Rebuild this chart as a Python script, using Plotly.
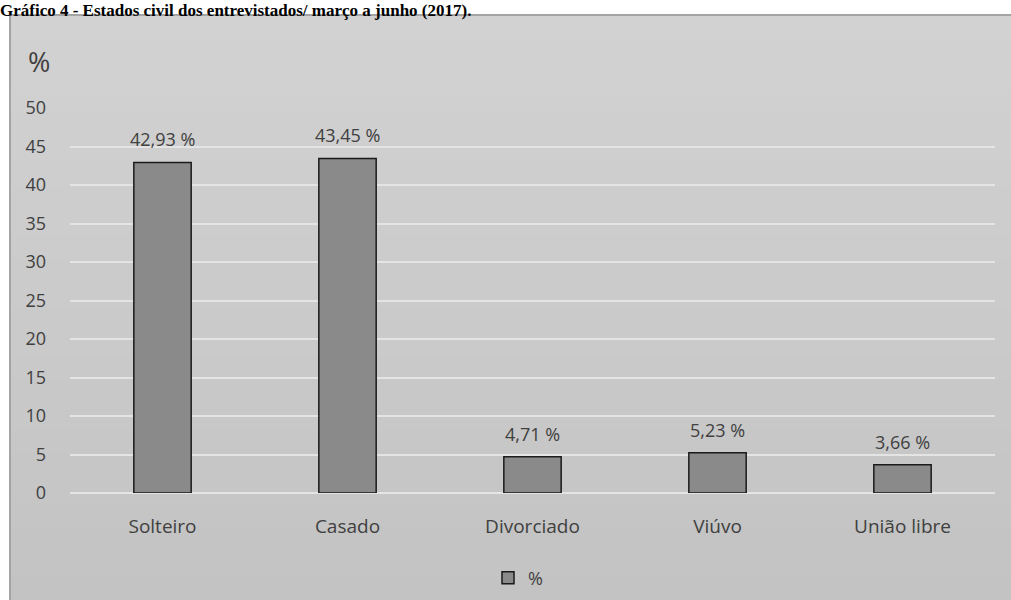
import plotly.graph_objects as go

categories = ["Solteiro", "Casado", "Divorciado", "Viúvo", "União libre"]
values = [42.93, 43.45, 4.71, 5.23, 3.66]
labels = ["42,93 %", "43,45 %", "4,71 %", "5,23 %", "3,66 %"]
series_name = "%"
title_text = "Gráfico 4 - Estados civil dos entrevistados/ março a junho (2017)."

W, H = 1011, 600
L, R, T, B = 70, 16, 108, 107
pw, ph = W - L - R, H - T - B

def px(x):
    return (x - L) / pw

def py(y):
    return (H - B - y) / ph

FONT = "Open Sans, Noto Sans, sans-serif"

fig = go.Figure()
fig.add_trace(go.Bar(
    x=categories, y=values, name=series_name,
    marker=dict(color="#8a8a8a", line=dict(color="#1a1a1a", width=1.5)),
    width=0.31, showlegend=True,
))

annotations = [
    dict(x=c, y=v, text=t, xref="x", yref="y", showarrow=False,
         yanchor="middle", yshift=23, font=dict(family=FONT, size=18, color="#404040"))
    for c, v, t in zip(categories, values, labels)
]
annotations.append(dict(text="%", xref="paper", yref="paper", x=px(39), y=py(62),
                        xanchor="center", yanchor="middle", showarrow=False,
                        font=dict(family=FONT, size=27, color="#404040")))

shapes = []
x0, x1, y0, y1 = 10, 1011, 15, 600
n = 24
c_top, c_bot = 210, 195
for i in range(n):
    ya = y0 + (y1 - y0) * i / n
    yb = y0 + (y1 - y0) * (i + 1) / n + 1
    c = round(c_top + (c_bot - c_top) * i / (n - 1))
    shapes.append(dict(type="rect", xref="paper", yref="paper", layer="below",
                       x0=px(x0), x1=px(x1 + 2), y0=py(min(yb, y1 + 2)), y1=py(ya),
                       fillcolor=f"rgb({c},{c},{c})", line=dict(width=0)))
shapes.append(dict(type="line", xref="paper", yref="paper", layer="below",
                   x0=px(x0), x1=px(x1 + 2), y0=py(y0), y1=py(y0),
                   line=dict(color="#a4a4a4", width=2)))
shapes.append(dict(type="line", xref="paper", yref="paper", layer="below",
                   x0=px(x0), x1=px(x0), y0=py(y0), y1=py(y1 + 2),
                   line=dict(color="#a4a4a4", width=2)))

fig.update_layout(
    width=W, height=H, autosize=False,
    margin=dict(l=L, r=R, t=T, b=B, pad=0, autoexpand=False),
    paper_bgcolor="white", plot_bgcolor="rgba(0,0,0,0)",
    font=dict(family=FONT, color="#404040"),
    shapes=shapes,
    annotations=annotations,
    title=dict(text=f"<b>{title_text}</b>", x=0.0, xanchor="left", xref="container",
               y=1 - 16 / H, yanchor="bottom", yref="container", pad=dict(l=0, b=0),
               font=dict(family="Liberation Serif, Times New Roman, serif", size=17, color="black")),
    xaxis=dict(showgrid=False, showline=False, ticks="", tickfont=dict(size=19, color="#404040"),
               ticklabelstandoff=20, fixedrange=True, automargin=False),
    yaxis=dict(range=[0, 50], dtick=5, showgrid=True, gridcolor="#e4e4e4", gridwidth=1.5,
               zeroline=True, zerolinecolor="#e4e4e4", zerolinewidth=1.5,
               showline=False, ticks="", tickfont=dict(size=18, color="#404040"),
               ticklabelstandoff=23, fixedrange=True, automargin=False),
    legend=dict(orientation="h", xref="container", yref="container",
                x=518 / W, xanchor="center", y=1 - 578 / H, yanchor="middle",
                bgcolor="rgba(0,0,0,0)", font=dict(size=18, color="#404040"),
                itemwidth=30),
)

fig.write_html("out.html", config={"displayModeBar": False},
               post_script="document.body.style.margin='0';document.body.style.overflow='hidden';")
